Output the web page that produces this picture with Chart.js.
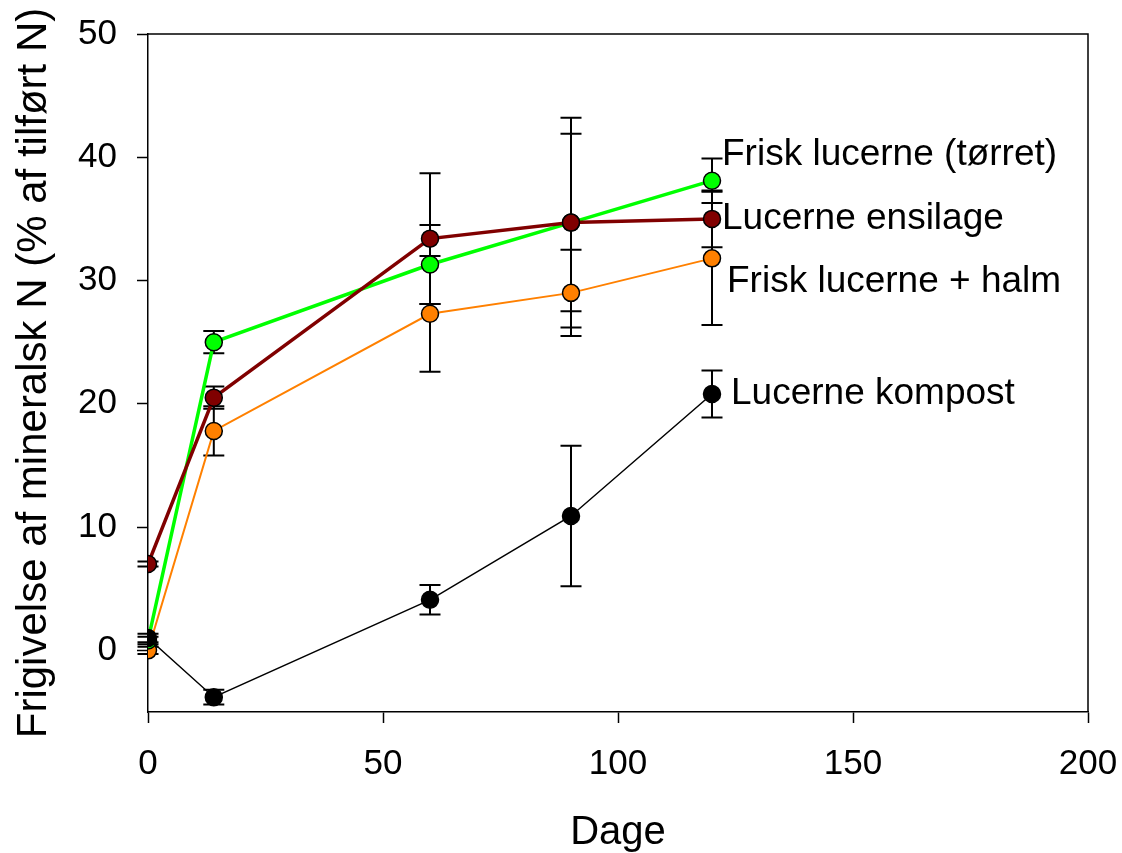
<!DOCTYPE html>
<html>
<head>
<meta charset="utf-8">
<script src="https://cdn.jsdelivr.net/npm/chart.js@4"></script>
<style>
  body { margin: 0; background: #fff; }
  #wrap { width: 1122px; height: 853px; }
</style>
</head>
<body>
<div id="wrap"><canvas id="chart" width="1122" height="853"></canvas></div>
<script>
// days after incorporation
const days = [0, 14, 60, 90, 120];

// released mineral N (% of added N) and error bar half-lengths
const friskTorret = [0.8, 25.0, 31.3, 34.7, 38.1];
const friskTorretErr = [0.3, 0.9, 3.2, 7.2, 1.8];
const ensilage = [7.0, 20.5, 33.4, 34.7, 35.0];
const ensilageErr = [0.2, 0.9, 5.3, 8.5, 2.3];
const halm = [0.0, 17.8, 27.3, 29.0, 31.8];
const halmErr = [0.3, 2.0, 4.7, 3.5, 5.4];
const kompost = [1.0, -3.8, 4.1, 10.9, 20.8];
const kompostErr = [0.35, 0.6, 1.2, 5.7, 1.9];

const xTicks = [0, 50, 100, 150, 200];
const yTicks = [0, 10, 20, 30, 40, 50];

const FONT = "'Liberation Sans', Arial, sans-serif";

function series(label, values, errors, color, width) {
    return {
        label: label,
        data: days.map((d, i) => ({ x: d, y: values[i] })),
        errors: errors,
        borderColor: color,
        backgroundColor: color,
        borderWidth: width,
        pointRadius: 8.5,
        pointBorderColor: '#000',
        pointBorderWidth: 1.5,
        pointBackgroundColor: color,
        tension: 0
    };
}

// first dataset is drawn on top
const datasets = [
    series('Lucerne kompost', kompost, kompostErr, '#000000', 1.5),
    series('Lucerne ensilage', ensilage, ensilageErr, '#800000', 3.5),
    series('Frisk lucerne (tørret)', friskTorret, friskTorretErr, '#00ff00', 3.5),
    series('Frisk lucerne + halm', halm, halmErr, '#ff8000', 2)
];

// where the end labels sit relative to the last point (px)
const labelOffsets = {
    'Frisk lucerne (tørret)': [10, -26],
    'Lucerne ensilage': [10, 0],
    'Frisk lucerne + halm': [15, 23],
    'Lucerne kompost': [19, 0]
};

// fixed axis sizes, no extra room for overhanging tick labels
function fixSize(prop, size) {
    return scale => {
        scale[prop] = size;
        scale.paddingLeft = 0;
        scale.paddingRight = 0;
        scale.paddingTop = 0;
        scale.paddingBottom = 0;
    };
}

// Error bars + frame, drawn under the markers
const errorBars = {
    id: 'errorBars',
    beforeDatasetsDraw(chart) {
        const ctx = chart.ctx;
        const xs = chart.scales.x;
        const ys = chart.scales.y;
        const area = chart.chartArea;
        ctx.save();
        ctx.strokeStyle = '#000';
        ctx.lineWidth = 1.5;
        ctx.beginPath();
        ctx.moveTo(area.left, area.top);
        ctx.lineTo(area.right, area.top);
        ctx.lineTo(area.right, area.bottom);
        ctx.stroke();

        ctx.lineWidth = 2;
        chart.data.datasets.forEach(ds => {
            ds.data.forEach((p, i) => {
                const e = ds.errors[i];
                const px = xs.getPixelForValue(p.x);
                const top = ys.getPixelForValue(p.y + e);
                const bot = ys.getPixelForValue(p.y - e);
                ctx.beginPath();
                ctx.moveTo(px, top);
                ctx.lineTo(px, bot);
                ctx.moveTo(px - 10.5, top);
                ctx.lineTo(px + 10.5, top);
                ctx.moveTo(px - 10.5, bot);
                ctx.lineTo(px + 10.5, bot);
                ctx.stroke();
            });
        });
        ctx.restore();
    }
};

const endLabels = {
    id: 'endLabels',
    afterDatasetsDraw(chart) {
        const ctx = chart.ctx;
        ctx.save();
        ctx.font = '37px ' + FONT;
        ctx.fillStyle = '#000';
        ctx.textAlign = 'left';
        ctx.textBaseline = 'middle';
        chart.data.datasets.forEach((ds, i) => {
            const meta = chart.getDatasetMeta(i);
            const last = meta.data[meta.data.length - 1];
            const off = labelOffsets[ds.label];
            ctx.fillText(ds.label, last.x + off[0], last.y + off[1]);
        });
        ctx.restore();
    }
};

new Chart(document.getElementById('chart').getContext('2d'), {
    type: 'line',
    data: { datasets: datasets },
    plugins: [errorBars, endLabels],
    options: {
        responsive: false,
        animation: false,
        layout: { padding: { top: 34, right: 34, left: 0, bottom: 0 } },
        plugins: {
            legend: { display: false },
            tooltip: { enabled: false }
        },
        scales: {
            x: {
                type: 'linear',
                min: 0,
                max: 200,
                afterBuildTicks: axis => { axis.ticks = xTicks.map(v => ({ value: v })); },
                afterFit: fixSize('height', 141),
                grid: { drawOnChartArea: false, drawTicks: true, tickLength: 11, tickColor: '#000', tickWidth: 1.5 },
                border: { display: true, color: '#000', width: 1.5 },
                ticks: { color: '#000', padding: 20, maxRotation: 0, font: { family: FONT, size: 35 } },
                title: {
                    display: true,
                    text: 'Dage',
                    color: '#000',
                    padding: { top: 0, bottom: -4 },
                    font: { family: FONT, size: 40 }
                }
            },
            y: {
                min: -5,
                max: 50,
                afterBuildTicks: axis => { axis.ticks = yTicks.map(v => ({ value: v })); },
                afterFit: fixSize('width', 148),
                grid: { drawOnChartArea: false, drawTicks: true, tickLength: 11, tickColor: '#000', tickWidth: 1.5 },
                border: { display: true, color: '#000', width: 1.5 },
                ticks: { color: '#000', padding: 20, font: { family: FONT, size: 35 } },
                title: {
                    display: true,
                    text: 'Frigivelse af mineralsk N (% af tilført N)',
                    color: '#000',
                    padding: { top: 9, bottom: 0 },
                    font: { family: FONT, size: 42 }
                }
            }
        }
    }
});
</script>
</body>
</html>
